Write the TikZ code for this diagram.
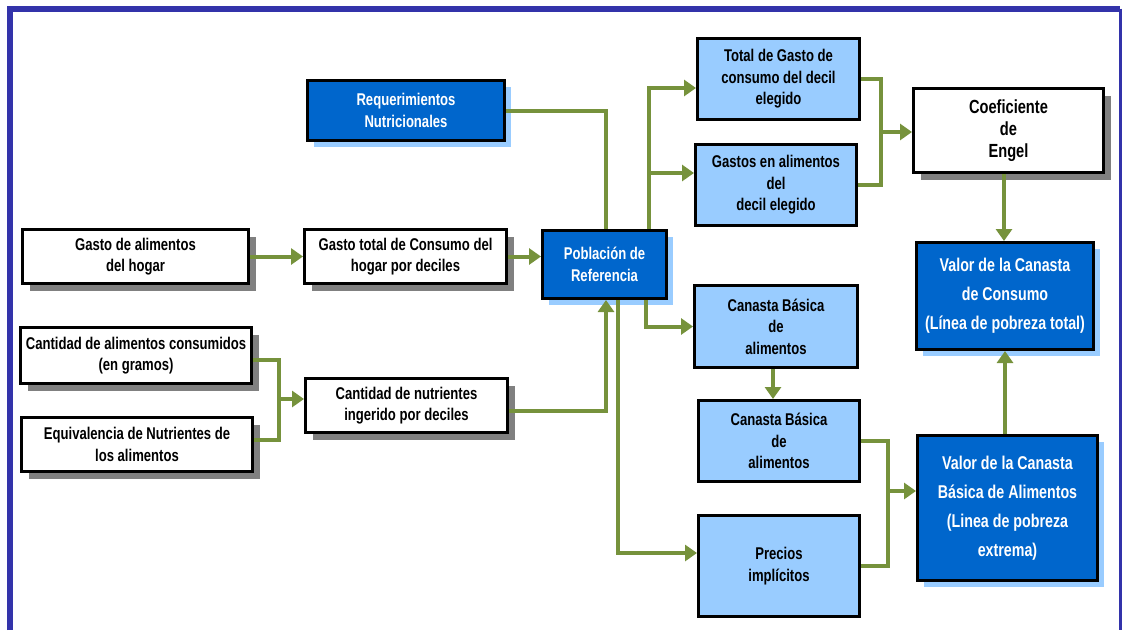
\documentclass[tikz,border=0pt]{standalone}
\usepackage{fontspec}
\setmainfont{Liberation Sans}[FakeStretch=0.77]
\usetikzlibrary{arrows.meta,shadows}
\definecolor{frameblue}{RGB}{51,51,170}
\definecolor{dblue}{RGB}{0,102,204}
\definecolor{lblue}{RGB}{153,204,255}
\definecolor{lgreen}{RGB}{118,146,60}
\definecolor{shgray}{RGB}{128,128,128}
\tikzset{
  box/.style={draw=black, line width=3pt, align=center, inner sep=2pt,
    font=\bfseries\fontsize{17}{21.5}\selectfont},
  bigtext/.style={font=\bfseries\fontsize{18.5}{29}\selectfont},
  engeltext/.style={font=\bfseries\fontsize{19}{22}\selectfont},
  wbox/.style={box, fill=white,
    drop shadow={shadow xshift=7pt, shadow yshift=-7pt, fill=shgray, opacity=1}},
  lbox/.style={box, fill=lblue},
  dbox/.style={box, fill=dblue, text=white,
    drop shadow={shadow xshift=6pt, shadow yshift=-6pt, fill=lblue, opacity=1}},
  conn/.style={draw=lgreen, line width=4pt, line join=miter},
  arr/.style={conn, -{Triangle[length=12pt,width=16pt]}},
}
\begin{document}
\begin{tikzpicture}[x=1pt,y=-1pt]
\useasboundingbox (0,0) rectangle (1123,630);
% frame
\draw[frameblue, line width=6pt, line join=miter] (10,630) -- (10,8.5) -- (1120,8.5);
\draw[frameblue, line width=3pt] (1120,8.5) -- (1120,630);

% nodes
\node[dbox, minimum width=197pt, minimum height=60pt] (req) at (406,110.5) {Requerimientos\\Nutricionales};
\node[wbox, minimum width=226pt, minimum height=54pt] (gal) at (135.5,256.5) {Gasto de alimentos\\del hogar};
\node[wbox, minimum width=202pt, minimum height=54pt] (gtc) at (405.5,256.5) {Gasto total de Consumo del\\hogar por deciles};
\node[wbox, minimum width=231pt, minimum height=56pt] (cac) at (136,355.5) {Cantidad de alimentos consumidos\\(en gramos)};
\node[wbox, minimum width=231pt, minimum height=54pt] (equ) at (137,444.5) {Equivalencia de Nutrientes de\\los alimentos};
\node[wbox, minimum width=202pt, minimum height=54pt] (cnu) at (406.5,405.5) {Cantidad de nutrientes\\ingerido por deciles};
\node[dbox, minimum width=124pt, minimum height=68pt] (pob) at (604.5,264.5) {Población de\\Referencia};
\node[lbox, minimum width=162pt, minimum height=81pt] (tgc) at (778.5,79) {Total de Gasto de\\consumo del decil\\elegido};
\node[lbox, minimum width=161pt, minimum height=81pt] (gae) at (776,185) {Gastos en alimentos\\del\\decil elegido};
\node[lbox, minimum width=163pt, minimum height=82pt] (cb1) at (776,326.5) {Canasta Básica\\de\\alimentos};
\node[lbox, minimum width=161pt, minimum height=81pt] (cb2) at (779,441) {Canasta Básica\\de\\alimentos};
\node[lbox, minimum width=161pt, minimum height=101pt] (pre) at (779,566) {Precios\\implícitos};
\node[wbox, engeltext, minimum width=190pt, minimum height=84pt] (coe) at (1008.5,130.5) {Coeficiente\\de\\Engel};
\node[dbox, bigtext, minimum width=177pt, minimum height=107pt] (vcc) at (1005,296) {Valor de la Canasta\\de Consumo\\(Línea de pobreza total)};
\node[dbox, bigtext, minimum width=180pt, minimum height=145pt] (vcb) at (1007.5,508) {Valor de la Canasta\\Básica de Alimentos\\(Linea de pobreza\\extrema)};

% junctions
\coordinate (j1) at (881,132);
\coordinate (j2) at (279,399);
\coordinate (j3) at (888,491);

% connectors
\draw[conn] (req.east) -| (pob.north -| 606,0);
\draw[arr] (pob.north -| 649,0) |- (tgc.west |- 0,88);
\draw[arr] (pob.north -| 649,0) |- (gae.west |- 0,173);
\draw[conn] (tgc.east) -| (j1) |- (gae.east);
\draw[arr] (j1) -- (coe.west |- j1);
\draw[arr] (coe.south -| 1004,0) -- (vcc.north -| 1004,0);
\draw[arr] (gal.east) -- (gtc.west);
\draw[arr] (gtc.east) -- (pob.west |- gtc.east);
\draw[conn] (cac.east |- 0,360) -| (j2) |- (equ.east |- 0,440);
\draw[arr] (j2) -- (cnu.west |- j2);
\draw[arr] (cnu.east |- 0,411) -| (pob.south -| 606,0);
\draw[arr] (pob.south -| 618,0) |- (pre.west |- 0,553);
\draw[arr] (pob.south -| 646,0) |- (cb1.west);
\draw[arr] (cb1.south -| 773,0) -- (cb2.north -| 773,0);
\draw[conn] (cb2.east) -| (j3) |- (pre.east);
\draw[arr] (j3) -- (vcb.west |- j3);
\draw[arr] (vcb.north -| 1005,0) -- (vcc.south -| 1005,0);
\end{tikzpicture}
\end{document}
